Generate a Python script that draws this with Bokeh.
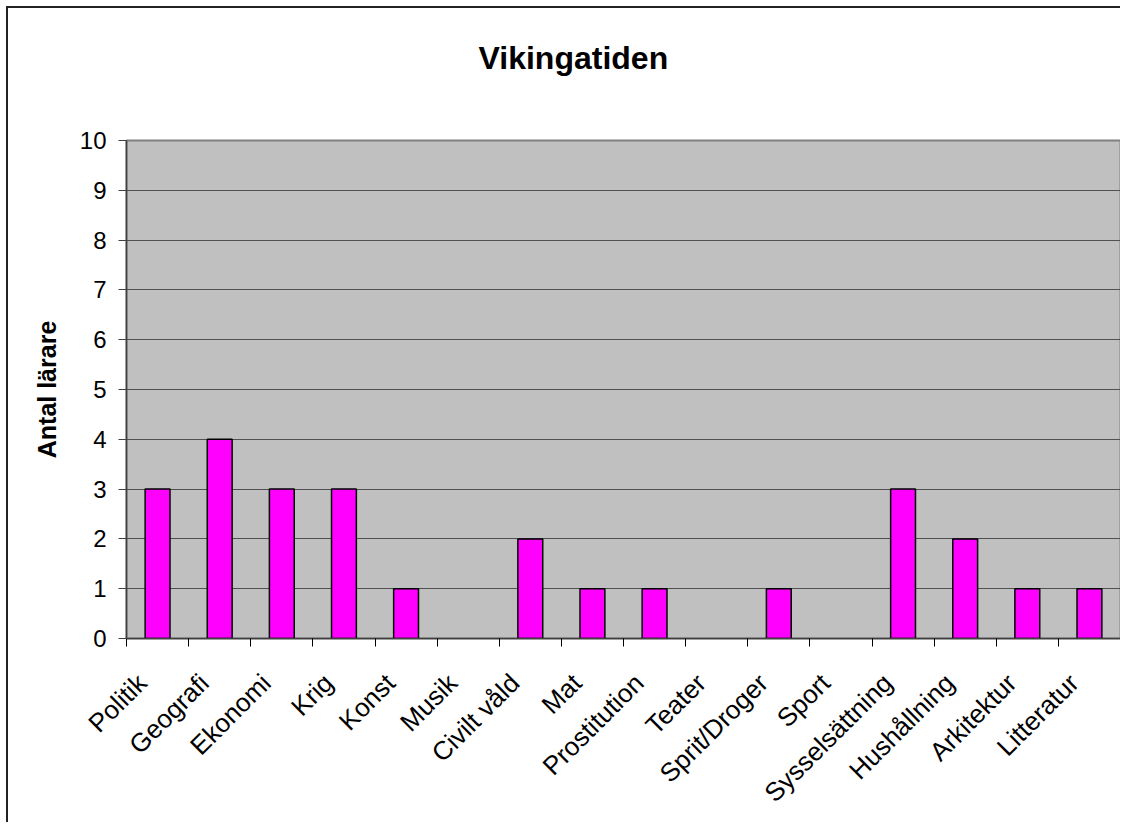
import math
from bokeh.plotting import figure
from bokeh.models import Range1d, FixedTicker
from bokeh.embed import file_html
from bokeh.resources import INLINE

# ---- data ----
categories = ["Politik", "Geografi", "Ekonomi", "Krig", "Konst", "Musik",
              "Civilt våld", "Mat", "Prostitution", "Teater", "Sprit/Droger",
              "Sport", "Sysselsättning", "Hushållning", "Arkitektur", "Litteratur"]
counts = [3, 4, 3, 3, 1, 0, 2, 1, 1, 0, 1, 0, 3, 2, 1, 1]
y_ticks = [0, 1, 2, 3, 4, 5, 6, 7, 8, 9, 10]
title_text = "Vikingatiden"
y_label = "Antal lärare"

FONT = "Liberation Sans"
n = len(categories)
centers = [i + 0.5 for i in range(n)]
label_pos = [c - 0.25 for c in centers]
boundaries = list(range(n + 1))

p = figure(width=1114, height=816,
           x_range=Range1d(0, n), y_range=Range1d(y_ticks[0], y_ticks[-1]),
           output_backend="svg", toolbar_location=None,
           min_border_left=118, min_border_top=132,
           min_border_right=2, min_border_bottom=186)
p.styles = {"margin-left": "6px", "margin-top": "6px",
            "border-left": "2px solid #222222", "border-top": "2px solid #222222"}
p.background_fill_color = "#C0C0C0"
p.border_fill_color = "white"
p.outline_line_color = "#808080"
p.outline_line_width = 2

# title: a trailing empty line makes the title box taller so the text sits higher
p.title.text = title_text + "\n"
p.title.align = "left"
p.title.offset = 352
p.title.vertical_align = "top"
p.title.standoff = 54
p.title.text_line_height = 1.0
p.title.text_font = FONT
p.title.text_font_size = "32px"
p.title.text_font_style = "bold"
p.title.text_color = "black"

line_cols = ["black" if v > 0 else None for v in counts]
p.vbar(x=centers, top=counts, width=0.4, bottom=0,
       fill_color="#FF00FF", line_color=line_cols, line_width=1.5)

# grid
p.xgrid.visible = False
p.ygrid.ticker = FixedTicker(ticks=y_ticks)
p.ygrid.grid_line_color = "#505050"
p.ygrid.grid_line_width = 1

# x axis
xa = p.below[0]
xa.ticker = FixedTicker(ticks=label_pos, minor_ticks=boundaries)
xa.major_label_overrides = {pos: name for pos, name in zip(label_pos, categories)}
xa.major_tick_out = 0
xa.major_tick_in = 0
xa.minor_tick_out = 8
xa.minor_tick_in = 0
xa.minor_tick_line_color = "black"
xa.axis_line_color = "#404040"
xa.axis_line_width = 1.5
xa.major_label_orientation = math.pi / 4
xa.major_label_standoff = 32
xa.major_label_text_font = FONT
xa.major_label_text_font_size = "26px"
xa.major_label_text_color = "black"

# y axis
ya = p.yaxis[0]
ya.ticker = FixedTicker(ticks=y_ticks)
ya.minor_tick_line_color = None
ya.major_tick_out = 8
ya.major_tick_in = 0
ya.major_tick_line_color = "#404040"
ya.axis_line_color = "#404040"
ya.axis_line_width = 1.5
ya.major_label_standoff = 12
ya.major_label_text_font = FONT
ya.major_label_text_font_size = "24px"
ya.major_label_text_color = "black"
ya.axis_label = y_label
ya.axis_label_text_font = FONT
ya.axis_label_text_font_size = "25px"
ya.axis_label_text_font_style = "bold"
ya.axis_label_text_color = "black"
ya.axis_label_standoff = 16

open("out.html", "w").write(file_html(p, INLINE))
